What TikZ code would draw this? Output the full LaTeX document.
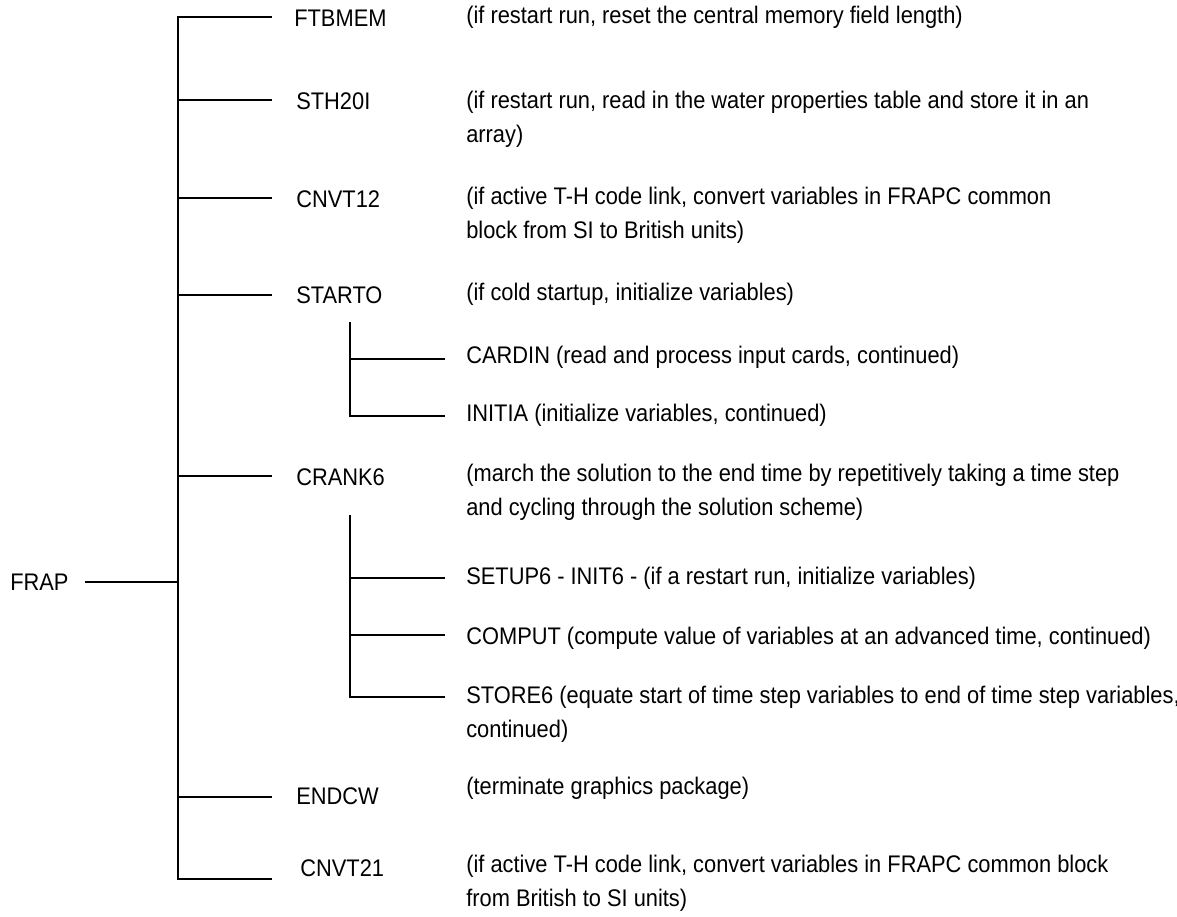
\documentclass[tikz,border=0pt]{standalone}
\usepackage{fontspec}
\setmainfont{Liberation Sans}[FakeStretch=0.91]

\begin{document}
\begin{tikzpicture}[x=0.5pt,y=-0.5pt,line width=1.3pt,
  lbl/.style={anchor=west,inner sep=0pt,font=\fontsize{12}{17}\selectfont},
  desc/.style={lbl,align=left,yshift=1.1pt}]
  \useasboundingbox (0,0) rectangle (1177,916);

  % Root and the main trunk of the call tree.
  \node[lbl] (frap) at (9,582) {FRAP};
  \coordinate (top) at (178,17);
  \coordinate (bot) at (178,879);
  \draw ([xshift=7.5pt]frap.east) -- (frap -| top);
  \coordinate (e-ftbmem) at (272,17);
  \coordinate (e-cnvt21) at (272,879);
  \draw (e-ftbmem) -- (top) -- (bot) -- (e-cnvt21);
  \foreach \n/\y in {sth20i/100,cnvt12/198,starto/295,crank6/476,endcw/797}{
    \coordinate (e-\n) at (272,\y);
    \draw (top |- e-\n) -- (e-\n);
  }

  % First-level subroutines and what they do.
  \node[lbl] (ftbmem) at (293,18) {FTBMEM};
  \node[lbl] (sth20i) at (295,101) {STH20I};
  \node[lbl] (cnvt12) at (295,199) {CNVT12};
  \node[lbl] (starto) at (295,295) {STARTO};
  \node[lbl] (crank6) at (295,477) {CRANK6};
  \node[lbl] (endcw)  at (295,796) {ENDCW};
  \node[lbl] (cnvt21) at (299,868) {CNVT21};

  \node[desc] (d-ftbmem) at (465,19)
    {(if restart run, reset the central memory field length)};
  \node[desc] (d-sth20i) at (465,121.5)
    {(if restart run, read in the water properties table and store it in an\\array)};
  \node[desc] (d-cnvt12) at (465,217)
    {(if active T-H code link, convert variables in FRAPC common\\block from SI to British units)};
  \node[desc] (d-starto) at (465,296)
    {(if cold startup, initialize variables)};
  \node[desc] (d-crank6) at (465,494)
    {(march the solution to the end time by repetitively taking a time step\\and cycling through the solution scheme)};
  \node[desc] (d-endcw) at (465,790)
    {(terminate graphics package)};
  \node[desc] (d-cnvt21) at (465,885)
    {(if active T-H code link, convert variables in FRAPC common block\\from British to SI units)};

  % Calls below STARTO.
  \coordinate (s-top) at (350,322);
  \coordinate (e-cardin) at (445,359);
  \coordinate (e-initia) at (445,416);
  \draw (s-top) -- (s-top |- e-initia) -- (e-initia);
  \draw (s-top |- e-cardin) -- (e-cardin);
  \node[desc] (cardin) at (465,359)
    {CARDIN (read and process input cards, continued)};
  \node[desc] (initia) at (465,417)
    {INITIA (initialize variables, continued)};

  % Calls below CRANK6.
  \coordinate (c-top) at (350,515);
  \coordinate (e-setup6) at (445,578);
  \coordinate (e-comput) at (445,635);
  \coordinate (e-store6) at (445,697);
  \draw (c-top) -- (c-top |- e-store6) -- (e-store6);
  \draw (c-top |- e-setup6) -- (e-setup6)
        (c-top |- e-comput) -- (e-comput);
  \node[desc] (setup6) at (465,580)
    {SETUP6 - INIT6 - (if a restart run, initialize variables)};
  \node[desc] (comput) at (465,640)
    {COMPUT (compute value of variables at an advanced time, continued)};
  \node[desc] (store6) at (465,716.5)
    {STORE6 (equate start of time step variables to end of time step variables,\\continued)};
\end{tikzpicture}
\end{document}
